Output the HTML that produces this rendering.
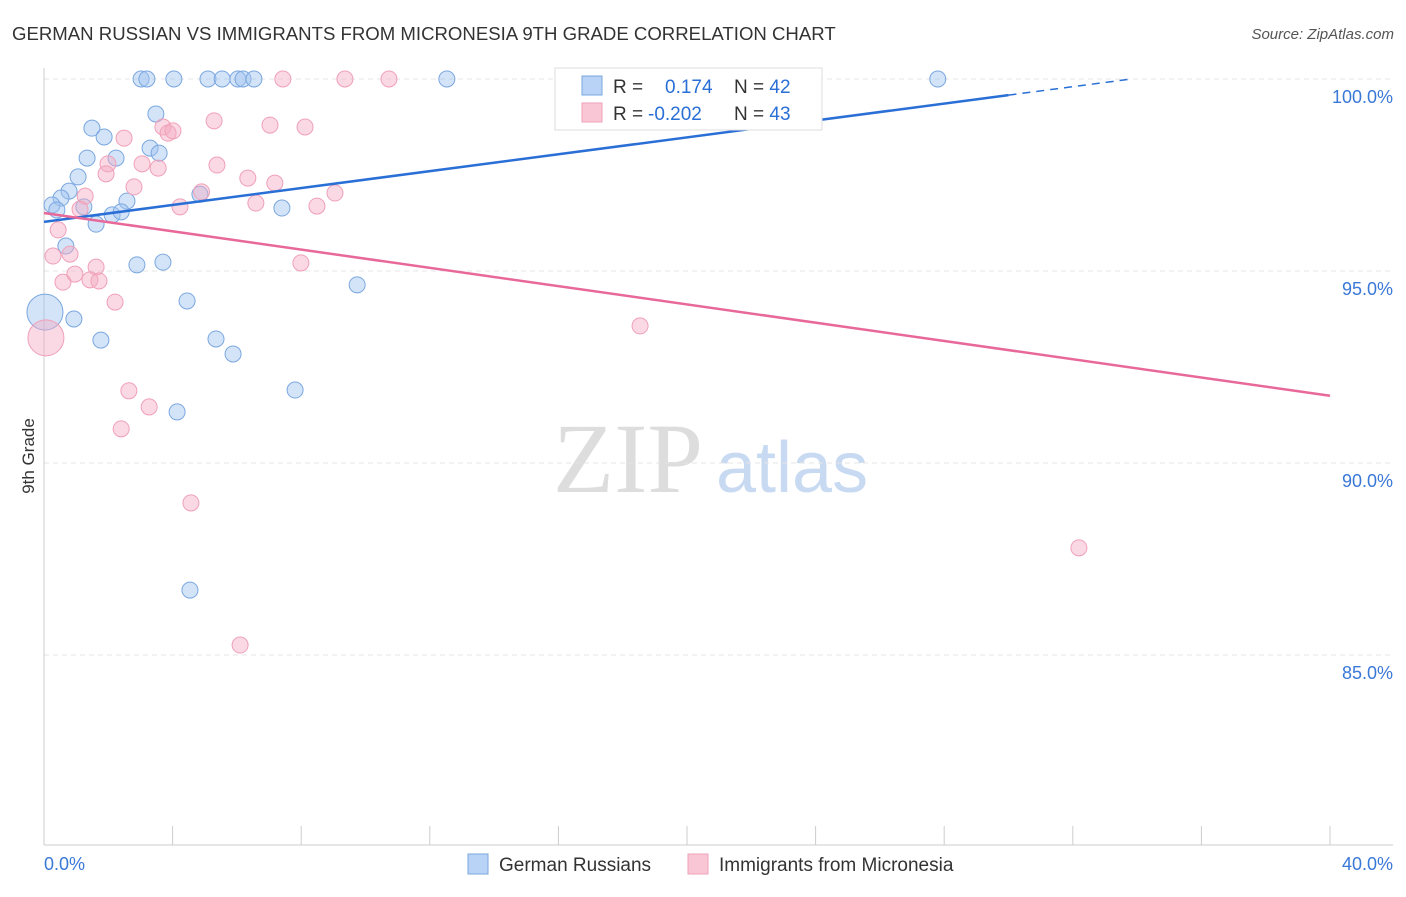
<!DOCTYPE html>
<html><head><meta charset="utf-8"><style>
body{margin:0;background:#fff;font-family:"Liberation Sans",sans-serif;}
</style></head><body>
<svg id="chart" width="1406" height="892" font-family="Liberation Sans, sans-serif">
<text x="12" y="40" font-size="18.6" fill="#333">GERMAN RUSSIAN VS IMMIGRANTS FROM MICRONESIA 9TH GRADE CORRELATION CHART</text>
<text x="1394" y="39" font-size="15" fill="#555" text-anchor="end" font-style="italic">Source: ZipAtlas.com</text>
<text x="0" y="0" transform="translate(34,456) rotate(-90)" font-size="17" fill="#333" text-anchor="middle">9th Grade</text>
<g>
<text x="553" y="492" font-size="100" fill="#ddd" style="font-family:'Liberation Serif',serif">ZIP</text>
<text x="716" y="492" font-size="72" fill="#c8daf2">atlas</text>
</g>
<g id="grid"></g><g id="axes"></g><g id="marks"></g>
<g>
<rect x="555" y="68" width="267" height="62" fill="#fff" stroke="#ddd"/>
<rect x="582" y="76" width="20" height="19" fill="#b8d3f5" stroke="#7aa7e0"/>
<rect x="582" y="103" width="20" height="19" fill="#f9c6d6" stroke="#f0a0b8"/>
<text x="613" y="93" font-size="19" fill="#333">R = <tspan x="665" fill="#2a6fd6">0.174</tspan><tspan x="734" fill="#333">N = </tspan><tspan fill="#2a6fd6">42</tspan></text>
<text x="613" y="120" font-size="19" fill="#333">R = <tspan x="648" fill="#2a6fd6">-0.202</tspan><tspan x="734" fill="#333">N = </tspan><tspan fill="#2a6fd6">43</tspan></text>
</g>
<g>
<rect x="468" y="854" width="20" height="20" fill="#b8d3f5" stroke="#7aa7e0"/>
<text x="499" y="871" font-size="19" fill="#333">German Russians</text>
<rect x="688" y="854" width="20" height="20" fill="#f9c6d6" stroke="#f0a0b8"/>
<text x="719" y="871" font-size="19" fill="#333">Immigrants from Micronesia</text>
</g>
</svg>
<script>
const yTicks=[100,95,90,85];
const xTickLabels=["0.0%","40.0%"];
const blueX=[3.02,3.2,4.04,5.1,5.54,6.03,6.19,6.53,12.53,27.8,3.48,1.49,1.87,3.3,3.58,1.34,2.24,1.06,0.78,0.53,0.25,0.4,1.24,2.58,2.12,2.4,1.62,4.85,7.4,0.68,2.89,3.7,4.45,9.74,0.93,0.03,1.77,5.35,5.88,7.81,4.14,4.54];
const blueY=[100,100,100,100,100,100,100,100,100,100,99.09,98.72,98.49,98.2,98.07,97.94,97.94,97.45,97.08,96.9,96.72,96.59,96.67,96.82,96.46,96.54,96.22,97.0,96.64,95.65,95.16,95.23,94.22,94.64,93.75,93.93,93.2,93.23,92.84,91.9,91.33,86.69];
const blueBig=[35];
const pinkX=[7.43,9.36,10.73,2.49,5.29,3.7,3.86,4.01,7.03,8.12,1.99,3.05,3.55,5.38,1.93,6.34,7.18,2.8,4.9,9.05,1.28,6.59,4.23,8.49,1.12,0.44,0.28,0.81,1.62,0.96,0.59,1.43,1.71,7.99,2.21,0.06,18.54,2.64,3.27,2.4,4.57,32.19,6.1];
const pinkY=[100,100,100,98.46,98.91,98.75,98.59,98.65,98.8,98.75,97.79,97.79,97.68,97.76,97.53,97.42,97.29,97.19,97.06,97.03,96.95,96.77,96.67,96.69,96.61,96.07,95.39,95.44,95.1,94.92,94.71,94.77,94.74,95.21,94.19,93.26,93.57,91.88,91.46,90.89,88.96,87.79,85.26];
const pinkBig=[35];
const blueTrend=[96.28,0.11];
const pinkTrend=[96.51,-0.119];
const ns="http://www.w3.org/2000/svg";
const X=v=>44+v*(1286/40), Y=v=>79+(100-v)*38.4;
function mk(p,t,a){const e=document.createElementNS(ns,t);for(const k in a)e.setAttribute(k,a[k]);p.appendChild(e);return e;}
const grid=document.getElementById('grid'),axes=document.getElementById('axes'),marks=document.getElementById('marks');
yTicks.forEach(t=>{
 const l=mk(grid,'line',{x1:44,x2:1393,y1:Y(t),y2:Y(t),stroke:'#e4e4e4','stroke-dasharray':'5,4'});
 
 
 const tx=mk(axes,'text',{x:1393,y:Y(t)+24,'font-size':18,fill:'#3a78d8','text-anchor':'end'});
 tx.textContent=t.toFixed(1)+'%';
 
 
});
mk(axes,'line',{x1:44,x2:44,y1:68,y2:845,stroke:'#ccc'});
mk(axes,'line',{x1:44,x2:1393,y1:845,y2:845,stroke:'#ccc'});
for(let i=0;i<=10;i++){const t=mk(axes,'line',{x1:X(i*4),x2:X(i*4),y1:826,y2:845,stroke:'#ccc'});
 
 }
[[0,44,'start'],[40,1393,'end']].forEach((d,i)=>{const t=mk(axes,'text',{x:d[1],y:870,'font-size':18,fill:'#3a78d8','text-anchor':d[2]});t.textContent=xTickLabels[i];
 
 });
function pts(xs,ys,big,fill,stroke,name){xs.forEach((x,i)=>{const c=mk(marks,'circle',{cx:X(x),cy:Y(ys[i]),r:big.includes(i)?18:8,fill:fill,stroke:stroke,'stroke-width':1});
 
 });}
pts(blueX,blueY,blueBig,'rgba(160,196,240,0.45)','#7aa7e0','point-german-russian');
pts(pinkX,pinkY,pinkBig,'rgba(245,170,195,0.45)','#f0a0b8','point-micronesia');
const bEnd=30, bDash=33.8;
let l=mk(marks,'line',{x1:X(0),y1:Y(blueTrend[0]),x2:X(bEnd),y2:Y(blueTrend[0]+blueTrend[1]*bEnd),stroke:'#2a6fd6','stroke-width':2.5});


l=mk(marks,'line',{x1:X(bEnd),y1:Y(blueTrend[0]+blueTrend[1]*bEnd),x2:X(bDash),y2:Y(blueTrend[0]+blueTrend[1]*bDash),stroke:'#2a6fd6','stroke-width':1.5,'stroke-dasharray':'8,6'});


l=mk(marks,'line',{x1:X(0),y1:Y(pinkTrend[0]),x2:X(40),y2:Y(pinkTrend[0]+pinkTrend[1]*40),stroke:'#e8689a','stroke-width':2.5});


</script>
</body></html>
